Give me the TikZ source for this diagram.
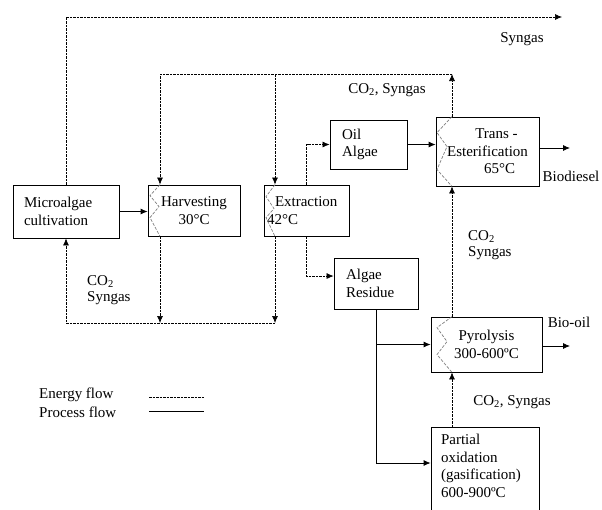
\documentclass[tikz,border=0pt]{standalone}
\usepackage{fontspec}
\setmainfont{Liberation Serif}
\usetikzlibrary{arrows.meta}
\tikzset{
  box/.style={draw, line width=0.8pt, inner sep=0pt},
  lbox/.style={box, align=left},
  lab/.style={inner sep=0pt},
  energy/.style={line width=0.7pt, dash pattern=on 2.5pt off 1pt},
  process/.style={line width=0.8pt},
  coil/.style={gray, line width=0.7pt, dash pattern=on 3pt off 1.5pt},
  tip/.style={-{Latex[length=7pt,width=6pt]}},
}
\begin{document}
\begin{tikzpicture}[x=1pt, y=-1pt, font=\fontsize{15pt}{17.5pt}\selectfont]
  \useasboundingbox (0,0) rectangle (602,509);
  \clip (0,0) rectangle (602,509);
  % process units
  \node[lbox, minimum height=53pt, text width=84pt, inner xsep=11pt] (cult) at (66,211.5) {Microalgae\\cultivation};
  \node[box, align=center, minimum width=92pt, minimum height=51pt] (harv) at (194,210.5) {Harvesting\\30°C};
  \node[lbox, minimum height=51pt, text width=63pt, inner xsep=11pt] (extr) at (306.5,210.5) {Extraction\\\hspace*{-8pt}42°C};
  \node[lbox, minimum height=49pt, text width=53pt, inner xsep=12pt] (oil) at (368.5,144.5) {Oil\\Algae};
  \node[box, align=center, minimum width=103pt, minimum height=69pt] (trans) at (487.5,151.5) {\hspace*{18pt}Trans -\\Esterification\\\hspace*{24pt}65°C};
  \node[lbox, minimum height=51pt, text width=60pt, inner xsep=12pt] (resid) at (376,283.5) {Algae\\Residue};
  \node[box, align=center, minimum width=111pt, minimum height=55pt] (pyro) at (486.5,344.5) {Pyrolysis\\300-600ºC};
  \node[lbox, anchor=north, text width=88pt, inner xsep=10pt, inner ysep=7pt] (part) at (485,427) {Partial\\oxidation\\(gasification)\\600-900ºC\rule[-30pt]{0pt}{1pt}};
  % labels
  \node[lab] (lsyn) at (522,39) {Syngas};
  \node[lab] (lco1) at (387,90) {CO\textsubscript{2}, Syngas};
  \node[lab, anchor=west, align=left] (lco2) at (87,290) {CO\textsubscript{2}\\[-1.5pt]Syngas};
  \node[lab] (lbd) at (571,176) {Biodiesel};
  \node[lab, anchor=west, align=left] (lco3) at (468,245) {CO\textsubscript{2}\\[-1.5pt]Syngas};
  \node[lab] (lbo) at (569,322) {Bio-oil};
  \node[lab] (lco4) at (512,402) {CO\textsubscript{2}, Syngas};
  % heat coils
  \coordinate (synEnd) at (562,17);
  \coordinate (hot) at (452,74);
  \coordinate (hin) at (160,74);
  \coordinate (xin) at (275,74);
  \coordinate (hout) at (160,323);
  \coordinate (xout) at (275,323);
  \draw[coil] (hin |- harv.north) -- ++(-10,11) -- ++(9,11) -- ++(-9,11) -- (hin |- harv.south);
  \draw[coil] (xin |- extr.north) -- ++(-9,12) -- ++(8,12) -- ++(-8,9) -- (xin |- extr.south);
  \draw[coil] (hot |- trans.north) -- ++(-15,16) -- ++(10,14) -- ++(-10,23) -- (hot |- trans.south);
  \draw[coil] (hot |- pyro.north) -- ++(-15,11) -- ++(10,14) -- ++(-10,13) -- (hot |- pyro.south);
  % energy flow
  \draw[energy, tip] (cult.north) |- (synEnd);
  \draw[energy, tip] (hot |- trans.north) -- (hot);
  \draw[energy, tip] (hot) -- (hin) -- (hin |- harv.north);
  \draw[energy, tip] (xin) -- (xin |- extr.north);
  \draw[energy, tip] (hin |- harv.south) -- (hout);
  \draw[energy, tip] (xin |- extr.south) -- (xout);
  \draw[energy, tip] (xout) -| (cult.south);
  \draw[energy, tip] (extr.north) |- (oil.west);
  \draw[energy, tip] (extr.south) |- (resid.170);
  \draw[energy, tip] (hot |- pyro.north) -- (hot |- trans.south);
  \draw[energy, tip] (hot |- part.north) -- (hot |- pyro.south);
  % process flow
  \coordinate (bdEnd) at (570,148);
  \coordinate (boEnd) at (570,346);
  \coordinate (rdown) at (376,463);
  \draw[process, tip] (cult.east) -- (cult.east -| harv.west);
  \draw[process, tip] (oil.east) -- (oil.east -| trans.west);
  \draw[process, tip] (bdEnd -| trans.east) -- (bdEnd);
  \draw[process, tip] (boEnd -| pyro.east) -- (boEnd);
  \draw[process, tip] (resid.south) |- (rdown -| part.west);
  \draw[process, tip] (resid.south |- pyro.west) -- (pyro.west);
  % legend
  \node[lab, anchor=west] (legE) at (39,395) {Energy flow};
  \node[lab, anchor=west] (legP) at (39,412) {Process flow};
  \coordinate (eA) at (149,397);
  \coordinate (eB) at (204,397);
  \coordinate (pA) at (149,411);
  \coordinate (pB) at (204,411);
  \draw[energy] (eA) -- (eB);
  \draw[process] (pA) -- (pB);
\end{tikzpicture}
\end{document}
